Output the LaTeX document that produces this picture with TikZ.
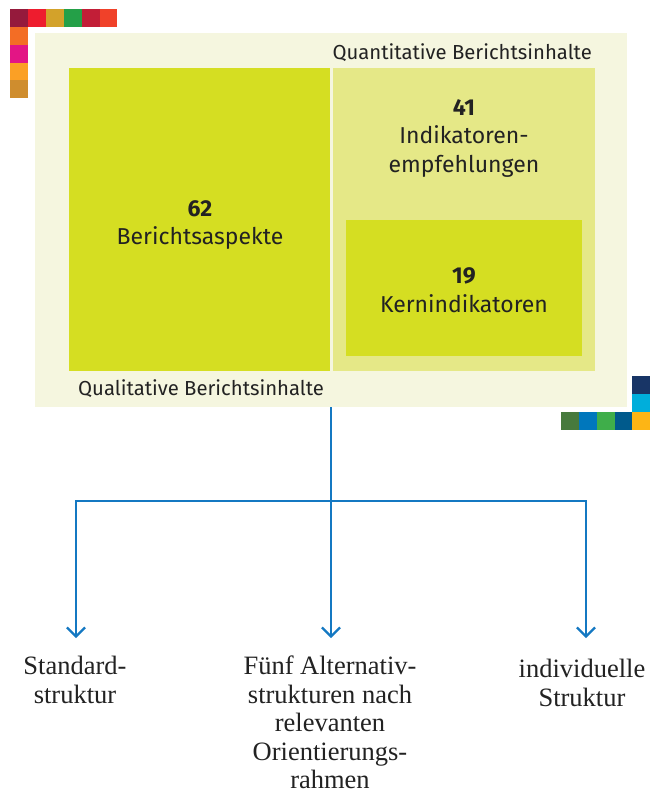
\documentclass[tikz,border=0pt]{standalone}
\usepackage{fontspec}
\setmainfont{Liberation Serif}
\newfontfamily\boxfont{Fira Sans}
\usetikzlibrary{arrows.meta}
\definecolor{bgcream}{HTML}{F5F6DF}
\definecolor{limeA}{HTML}{D5DE22}
\definecolor{limeB}{HTML}{E5E887}
\definecolor{txt}{HTML}{222222}
\definecolor{linkblue}{HTML}{1478C2}
\definecolor{s1}{HTML}{951A3C}
\definecolor{s2}{HTML}{EE1C2E}
\definecolor{s3}{HTML}{D3A22A}
\definecolor{s4}{HTML}{24A048}
\definecolor{s5}{HTML}{C21E37}
\definecolor{s6}{HTML}{F04129}
\definecolor{s7}{HTML}{F36D25}
\definecolor{s8}{HTML}{E31585}
\definecolor{s9}{HTML}{FBA025}
\definecolor{s10}{HTML}{CF8D2E}
\definecolor{r1}{HTML}{183566}
\definecolor{r2}{HTML}{00AEDB}
\definecolor{r3}{HTML}{477A3D}
\definecolor{r4}{HTML}{0077BC}
\definecolor{r5}{HTML}{3FAE4A}
\definecolor{r6}{HTML}{005A8C}
\definecolor{r7}{HTML}{FDB515}
\begin{document}
\begin{tikzpicture}[x=1pt,y=-1pt,
  panel/.style={anchor=north west,inner sep=0pt,outer sep=0pt},
  small/.style={font=\boxfont\fontsize{20.3}{24}\selectfont,text=txt,inner sep=0pt},
  big/.style={font=\boxfont\fontsize{23}{28.5}\selectfont,text=txt,align=center,inner sep=0pt},
  lower/.style={font=\fontsize{26.5}{28.5}\selectfont,text=txt,align=center,inner sep=0pt,anchor=north},
  wire/.style={draw=linkblue,line width=2.2pt},
  arr/.style={wire,-{Straight Barb[length=9pt,width=18pt,line width=2.2pt]}}]
\useasboundingbox (0,0) rectangle (650,793);
% decorative squares top-left
\fill[s1] (10,9) rectangle (28,27);
\fill[s2] (28,9) rectangle (46,27);
\fill[s3] (46,9) rectangle (64,27);
\fill[s4] (64,9) rectangle (82,27);
\fill[s5] (82,9) rectangle (100,27);
\fill[s6] (100,9) rectangle (117,27);
\fill[s7] (10,27) rectangle (28,45);
\fill[s8] (10,45) rectangle (28,63);
\fill[s9] (10,63) rectangle (28,80);
\fill[s10] (10,80) rectangle (28,98);
% decorative squares bottom-right
\fill[r1] (632,376) rectangle (650,394);
\fill[r2] (632,394) rectangle (650,412);
\fill[r3] (561,412) rectangle (579,430);
\fill[r4] (579,412) rectangle (597,430);
\fill[r5] (597,412) rectangle (615,430);
\fill[r6] (615,412) rectangle (632,430);
\fill[r7] (632,412) rectangle (650,430);
% panels
\node[panel,fill=bgcream,minimum width=592pt,minimum height=374pt] (bg) at (35,33) {};
\node[panel,fill=limeA,minimum width=261pt,minimum height=303pt] (boxL) at (69,68) {};
\node[panel,fill=limeB,minimum width=262pt,minimum height=303pt] (boxR) at (333,68) {};
\node[panel,fill=limeA,minimum width=236pt,minimum height=136pt] (boxK) at (346,220) {};
% labels
\node[small,anchor=base east] (quant) at (592,59) {Quantitative Berichtsinhalte};
\node[small,anchor=base west] (qual) at (78,395) {Qualitative Berichtsinhalte};
\node[big] (t62) at (200,225) {\textbf{62}\\Berichtsaspekte};
\node[big,anchor=north] (t41) at (464,99) {\textbf{41}\\Indikatoren-\\empfehlungen};
\node[big] (t19) at (464,290) {\textbf{19}\\Kernindikatoren};
% bottom texts
\node[lower] (o1) at (75,656) {Standard-\\struktur};
\node[lower] (o2) at (330,656) {Fünf Alternativ-\\strukturen nach\\relevanten\\Orientierungs-\\rahmen};
\node[lower] (o3) at (582,659) {individuelle\\Struktur};
% connectors
\coordinate (split) at (331,501);
\coordinate (tip1) at (76,638);
\coordinate (tip2) at (331,638);
\coordinate (tip3) at (586,638);
\draw[wire] (bg.south) -- (split);
\draw[arr] (split) -| (tip1);
\draw[arr] (split) -- (tip2);
\draw[arr] (split) -| (tip3);
\end{tikzpicture}
\end{document}
